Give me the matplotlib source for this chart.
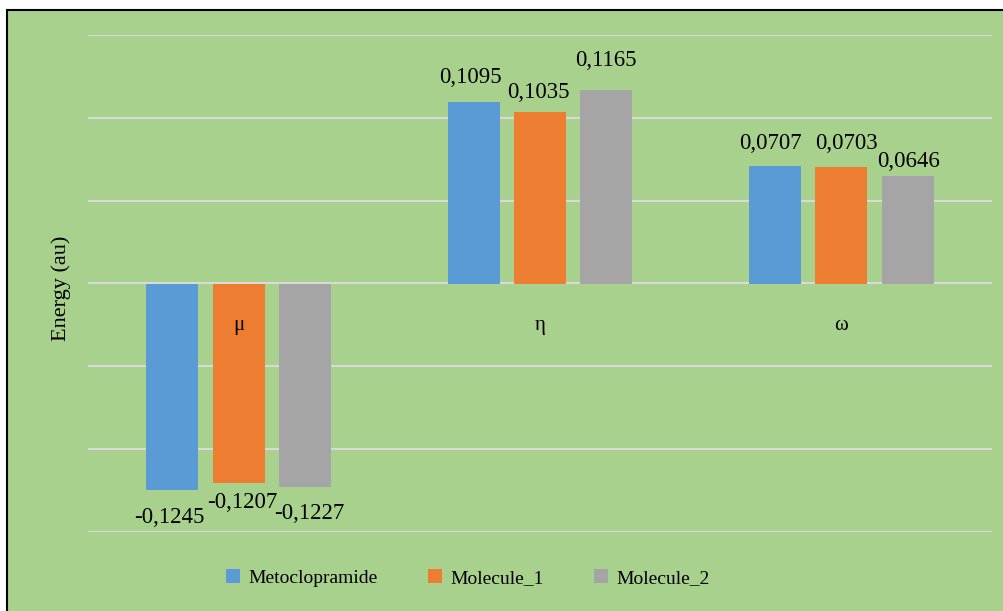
import matplotlib
matplotlib.use("Agg")
import numpy as np
import matplotlib.pyplot as plt
from matplotlib.patches import Rectangle
from matplotlib.transforms import offset_copy

# Veriler
categories = ["μ", "η", "ω"]
series_names = ["Metoclopramide", "Molecule_1", "Molecule_2"]
metoclopramide = [-0.1245, 0.1095, 0.0707]
molecule_1 = [-0.1207, 0.1035, 0.0703]
molecule_2 = [-0.1227, 0.1165, 0.0646]
value_labels = [["-0,1245", "0,1095", "0,0707"],
                ["-0,1207", "0,1035", "0,0703"],
                ["-0,1227", "0,1165", "0,0646"]]

colors = ["#5B9BD5", "#ED7D31", "#A5A5A5"]
green = "#A9D18E"

# Etiket kaymaları (piksel): [seri][kategori] -> (dx, dy)
label_dx = [[-3, -3, -4.5], [3.5, -2, 5.5], [4.5, 0, 1]]
label_dy = [[-33, 19, 17], [-25, 14, 18], [-32, 24, 9]]

plt.rcParams['font.family'] = ['Liberation Serif', 'DejaVu Serif']

fig = plt.figure(figsize=(10.04, 6.11), dpi=100, facecolor="white")
fig.patches.append(Rectangle((6.5 / 1004, -0.1), 1.2, 1 - 10.5 / 611 + 0.1,
                             transform=fig.transFigure, facecolor=green,
                             edgecolor="black", linewidth=1.5, zorder=-1))

ax = fig.add_axes([88 / 1004, 1 - 532 / 611, 904 / 1004, 497 / 611])
ax.set_facecolor("none")
ax.set_zorder(1)

x = np.arange(len(categories))
width = 0.173
step = 0.22
all_series = [metoclopramide, molecule_1, molecule_2]

for i, vals in enumerate(all_series):
    pos = x + (i - 1) * step
    ax.bar(pos, vals, width, color=colors[i], label=series_names[i], zorder=3)
    for j, v in enumerate(vals):
        tr = offset_copy(ax.transData, fig=fig, x=label_dx[i][j] * 0.72,
                         y=label_dy[i][j] * 0.72, units='points')
        ax.text(pos[j], v, value_labels[i][j], transform=tr, ha='center',
                va='baseline', fontsize=16.5, color="black", zorder=4)

# Kategori etiketleri
for j, c in enumerate(categories):
    tr = offset_copy(ax.transData, fig=fig, x=0, y=-42 * 0.72, units='points')
    ax.text(x[j], 0, c, transform=tr, ha='center', va='center',
            fontsize=15, zorder=5)

ax.set_xlim(-0.5, 2.5)
ax.set_ylim(-0.15, 0.15)
ax.set_yticks(np.arange(-0.15, 0.151, 0.05))
ax.set_yticklabels([])
ax.set_xticks([])
ax.tick_params(length=0)
ax.grid(axis='y', color="#D9D9D9", linewidth=1.5, zorder=1)
for s in ax.spines.values():
    s.set_visible(False)

fig.text(61 / 1004, 1 - 288 / 611, "Energy (au)", rotation=90, ha='center',
         va='center', fontsize=16)

leg = fig.legend(loc='center', bbox_to_anchor=(468 / 1004, 1 - 578 / 611),
                 ncol=3, frameon=False, fontsize=14, handlelength=0.7,
                 handleheight=0.7, handletextpad=0.45, columnspacing=2.6)

fig.savefig("out.png", dpi=100, facecolor=fig.get_facecolor())
